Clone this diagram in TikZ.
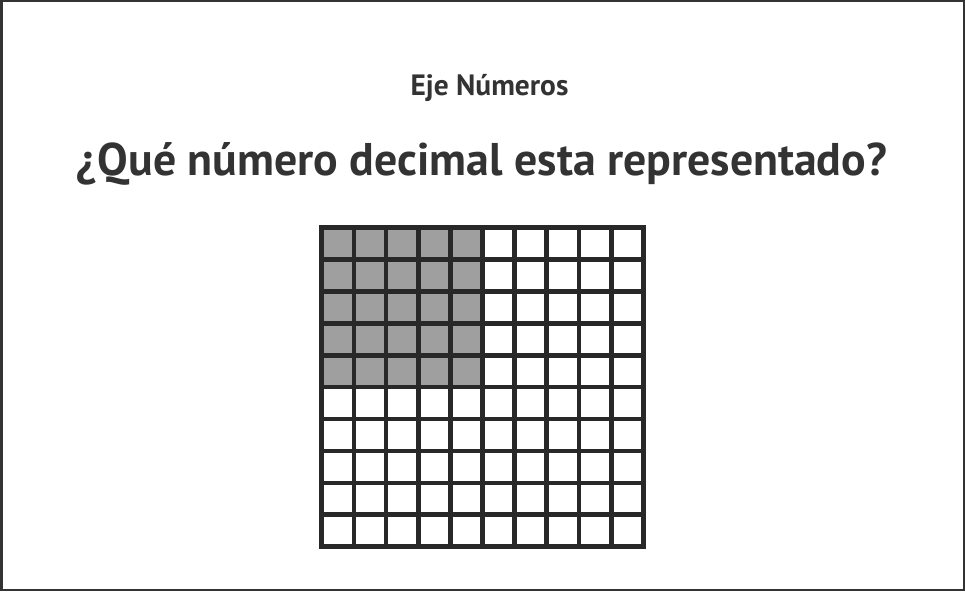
\documentclass[tikz,border=0pt]{standalone}
\usepackage{fontspec}
\setmainfont{PT Sans}
\definecolor{tinta}{RGB}{51,51,51}
\definecolor{rejilla}{RGB}{40,40,40}
\definecolor{relleno}{RGB}{158,159,158}
\begin{document}
\begin{tikzpicture}[x=1pt,y=-1pt]
        \useasboundingbox (0,0) rectangle (965,591);
        \draw[line width=2.5pt, tinta] (1.25,1.25) rectangle (963.75,589.75);
        \node[font=\bfseries\fontsize{29.4}{34}\selectfont, text=tinta] (eje) at (489.5,88) {Eje Números};
        \node[font=\bfseries\fontsize{45.8}{52}\selectfont, text=tinta] (pregunta) at (482,164) {¿Qué número decimal esta representado?};

        \fill[relleno] (321.7,227.5) rectangle +(160.8,160.8);  % 5 x 5 sombreado
        \foreach \k in {0,...,10} {
            \draw[line width=4.7pt, rejilla] (321.7+\k*32.16,227.5) -- ++(0,319.2);
            \draw[line width=4.7pt, rejilla] (321.7,227.5+\k*31.92) -- ++(321.6,0);
        }
        \draw[line width=4.7pt, rejilla] (321.7,227.5) rectangle (643.3,546.7);
    \end{tikzpicture}
\end{document}
